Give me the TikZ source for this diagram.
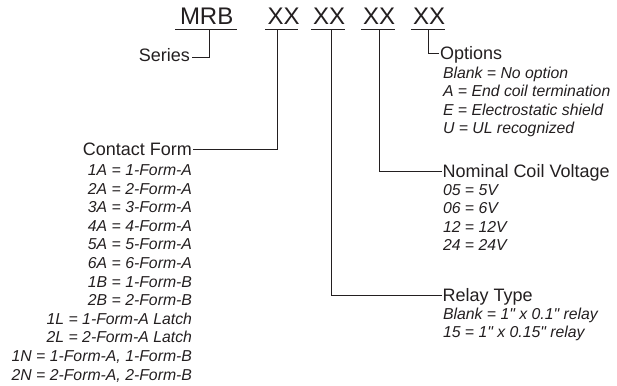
\documentclass[tikz,border=0pt]{standalone}
\usepackage{fontspec}
\setmainfont{Liberation Sans}[Ligatures=TeXOff]
\definecolor{ink}{HTML}{231F20}
\begin{document}
\begin{tikzpicture}[x=1pt,y=-1pt,
  every node/.style={inner sep=0pt, outer sep=0pt, text=ink},
  code/.style={font=\fontsize{24}{24}\selectfont, anchor=base west},
  head/.style={font=\fontsize{18}{18}\selectfont, text height=12.9pt, text depth=0pt, inner xsep=1pt},
  item/.style={font=\fontsize{15.8}{15.8}\selectfont\itshape},
  wire/.style={draw=ink, line width=0.9pt}]
\useasboundingbox (0,0) rectangle (617,385);

% part number
\node[code] (mrb) at (180,24.5) {MRB};
\node[code] (xx1) at (267.5,24.5) {XX};
\node[code] (xx2) at (313,24.5) {XX};
\node[code] (xx3) at (363,24.5) {XX};
\node[code] (xx4) at (413,24.5) {XX};
\draw[wire] (175,29.5) -- (237,29.5);
\draw[wire] (265,29.5) -- (298,29.5);
\draw[wire] (311,29.5) -- (345,29.5);
\draw[wire] (361,29.5) -- (395,29.5);
\draw[wire] (411,29.5) -- (445,29.5);

\coordinate (u0) at (209,29.5);
\coordinate (u1) at (277,29.5);
\coordinate (u2) at (331.5,29.5);
\coordinate (u3) at (379.5,29.5);
\coordinate (u4) at (428,29.5);

% headings
\node[head, anchor=east] (series) at (191,55) {Series};
\coordinate (sc) at (192,57.5);
\node[head, anchor=east] (contact) at (193,149.5) {Contact Form};
\node[head, anchor=west] (options) at (439,53.5) {Options};
\node[head, anchor=west] (nominal) at (441.5,171.5) {Nominal Coil Voltage};
\node[head, anchor=west] (relay) at (441.5,295) {Relay Type};

% connectors
\draw[wire] (u0) |- (sc);
\draw[wire] (u1) |- (contact.east);
\draw[wire] (u2) |- (relay.west);
\draw[wire] (u3) |- (nominal.west);
\draw[wire] (u4) |- (options.west);

% option items
\foreach \t [count=\i from 0] in {Blank = No option, A = End coil termination, E = Electrostatic shield, U = UL recognized}
  \node[item, anchor=base west] (op\i) at (443,78.5+18.4*\i) {\t};

% contact form items
\foreach \t [count=\i from 0] in {1A = 1-Form-A, 2A = 2-Form-A, 3A = 3-Form-A, 4A = 4-Form-A, 5A = 5-Form-A, 6A = 6-Form-A, 1B = 1-Form-B, 2B = 2-Form-B, 1L = 1-Form-A Latch, 2L = 2-Form-A Latch, {1N = 1-Form-A, 1-Form-B}, {2N = 2-Form-A, 2-Form-B}}
  \node[item, anchor=base east] (cf\i) at (192,175.5+18.6*\i) {\t};

% voltage items
\foreach \t [count=\i from 0] in {05 = 5V, 06 = 6V, 12 = 12V, 24 = 24V}
  \node[item, anchor=base west] (nv\i) at (443,195.3+18.5*\i) {\t};

% relay type items
\node[item, anchor=base west] (rt0) at (443,319) {Blank = 1" x 0.1" relay};
\node[item, anchor=base west] (rt1) at (443,337.5) {15 = 1" x 0.15" relay};
\end{tikzpicture}
\end{document}
